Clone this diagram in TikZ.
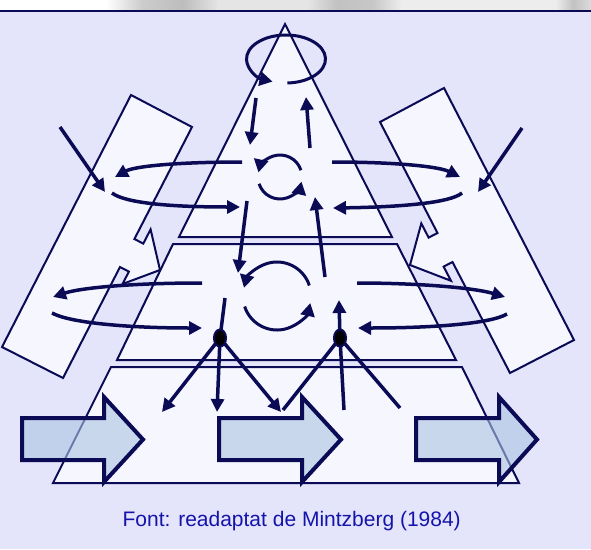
\documentclass[tikz,border=0pt]{standalone}
\usepackage{fontspec}
\setmainfont{Liberation Sans}
\usetikzlibrary{arrows.meta,shapes.geometric}
\definecolor{navy}{RGB}{10,10,85}
\definecolor{bg}{RGB}{228,228,251}
\definecolor{lite}{RGB}{245,246,254}
\definecolor{blk}{RGB}{170,195,225}
\definecolor{txt}{RGB}{20,20,170}
\pgfdeclarehorizontalshading{topband}{100bp}{color(0bp)=(white); color(25bp)=(white); color(34bp)=(white); color(37bp)=(black!20); color(40.5bp)=(black!26); color(43.5bp)=(black!10); color(51bp)=(black!10); color(53.5bp)=(black!24); color(56.5bp)=(black!22); color(59bp)=(black!7); color(72bp)=(black!7); color(73.5bp)=(black!24); color(75bp)=(black!14); color(100bp)=(black!14)}
\begin{document}
\begin{tikzpicture}[x=1pt,y=-1pt,
  outl/.style={draw=navy, line width=2pt, line join=miter, fill=lite},
  thk/.style={draw=navy, line width=3.5pt, -{Triangle[length=13pt,width=13pt]}},
  thkplain/.style={draw=navy, line width=3.5pt},
  circarr/.style={draw=navy, line width=3pt, -{Triangle[length=13pt,width=14pt]}},
  blockarr/.style={draw=navy, line width=4pt, line join=miter, fill=blk, fill opacity=0.6},
  dotmark/.style={ellipse, draw=navy, fill=black, line width=2pt, minimum width=12pt, minimum height=17pt, inner sep=0pt}]
\useasboundingbox (0,0) rectangle (591,549);
% background
\fill[bg] (0,0) rectangle (591,549);
\shade[shading=topband] (0,0) rectangle (591,10.5);
\draw[navy, line width=2.5pt] (0,11) -- (591,11);
% side panels
\draw[outl] (131,95) -- (192,127) -- (134.4,239) -- (143.3,243.6) -- (150.6,229.4) -- (160,270)
  -- (122.5,284) -- (128.9,271.6) -- (120,267) -- (63,378) -- (2,347) -- cycle;
\draw[outl] (380,122) -- (444,88) -- (574,340) -- (510,373) -- (452.5,262) -- (443.6,266.6)
  -- (451,280.8) -- (410,265) -- (421.3,223.4) -- (428.6,237.6) -- (437.5,233) -- cycle;
% pyramid
\draw[outl] (285,24) -- (392,237) -- (179,237) -- cycle;
\draw[outl] (173,244) -- (397,244) -- (456,360) -- (117,360) -- cycle;
\draw[outl] (111,367) -- (462,367) -- (519,483) -- (53,483) -- cycle;
% block arrows
\draw[blockarr] (22,418) -- (104,418) -- (104,397) -- (143,439.5) -- (104,482) -- (104,460) -- (22,460) -- cycle;
\draw[blockarr] (219,418) -- (302,418) -- (302,397) -- (341,439.5) -- (302,482) -- (302,460) -- (219,460) -- cycle;
\draw[blockarr] (416,418) -- (499,418) -- (499,397) -- (537,439.5) -- (499,482) -- (499,460) -- (416,460) -- cycle;
% top loop
\draw[circarr] (286,59) ++(88:39.5 and 24) arc[start angle=88, end angle=-250, x radius=39.5, y radius=24];
% top section vertical arrows
\draw[thk] (256,98) -- (250,145);
\draw[thk] (310,148) -- (306,97);
% top section rotation
\draw[circarr] (280,177) ++(-18:22) arc[start angle=-18, end angle=-168, radius=22];
\draw[circarr] (280,177) ++(162:22) arc[start angle=162, end angle=12, radius=22];
% top section horizontal arrows
\draw[thk] (242,162) .. controls (180,162) and (135,166) .. (115,177);
\draw[thk] (112,193) .. controls (125,203) and (170,207) .. (240,207);
\draw[thk] (332,162) .. controls (400,162) and (440,167) .. (460,177);
\draw[thk] (462,193) .. controls (450,203) and (400,207) .. (333,208);
% diagonal arrows into panels
\draw[thk] (60,127) -- (105,192);
\draw[thk] (522,128) -- (478,192);
% between sections
\draw[thk] (247,201) -- (238,273);
\draw[thk] (325,277) -- (315,197);
% middle rotation
\draw[circarr] (277,296) ++(-18:34) arc[start angle=-18, end angle=-166, radius=34];
\draw[circarr] (277,296) ++(162:34) arc[start angle=162, end angle=12, radius=34];
% middle horizontal arrows
\draw[thk] (202,283) .. controls (130,283) and (80,288) .. (53,297);
\draw[thk] (52,313) .. controls (70,323) and (130,328) .. (202,328);
\draw[thk] (357,283) .. controls (420,283) and (475,288) .. (505,297);
\draw[thk] (507,314) .. controls (490,324) and (430,328) .. (358,328);
% operating core links
\coordinate (dl) at (220,338);
\coordinate (dr) at (340,338);
\draw[thkplain] (225,298) -- (dl);
\draw[thk] (dr) -- (339,300);
\draw[thk] (dl) -- (162,412);
\draw[thk] (dl) -- (217,412);
\draw[thk] (dl) -- (281,412);
\draw[thkplain] (dr) -- (283,410);
\draw[thkplain] (dr) -- (344,410);
\draw[thkplain] (dr) -- (400,408);
\node[dotmark] (dlmark) at (dl) {};
\node[dotmark] (drmark) at (dr) {};
% caption
\node[anchor=base, text=txt, font=\fontsize{21}{25}\selectfont, inner sep=0pt] (src) at (291.7,526.5) {Font: readaptat de Mintzberg (1984)};
\end{tikzpicture}
\end{document}
